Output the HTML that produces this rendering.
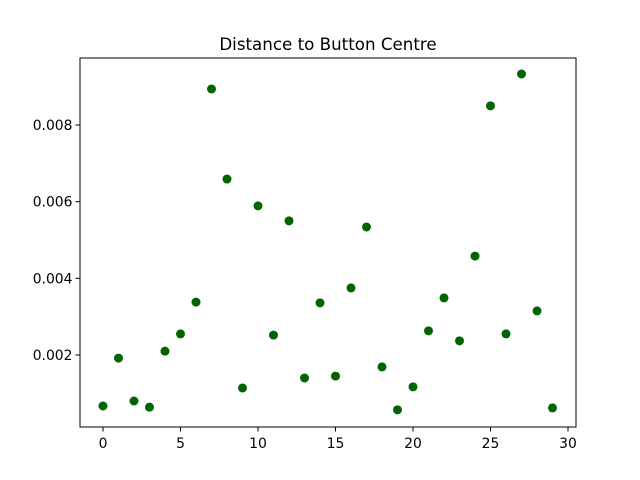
<!DOCTYPE html>
<html><head><meta charset="utf-8"><style>body{margin:0;background:#fff}svg{display:block;font-family:"DejaVu Sans","Liberation Sans",sans-serif}</style></head>
<body>
<svg id="chart" width="640" height="480">
<rect x="0" y="0" width="640" height="480" fill="#fff"/>
<text x="328" y="50" text-anchor="middle" font-size="16.7">Distance to Button Centre</text>
<g id="marks"></g>
<g id="axes"></g>
<rect x="80" y="58" width="496" height="369" fill="none" stroke="#000" stroke-width="1"/>
</svg>
<script>
const xValues = [0,1,2,3,4,5,6,7,8,9,10,11,12,13,14,15,16,17,18,19,20,21,22,23,24,25,26,27,28,29];
const yValues = [0.00067,0.00192,0.0008,0.00064,0.0021,0.00255,0.00338,0.00894,0.00659,0.00114,0.00589,0.00252,0.0055,0.0014,0.00336,0.00145,0.00375,0.00534,0.00169,0.00057,0.00117,0.00263,0.00349,0.00237,0.00458,0.0085,0.00255,0.00933,0.00315,0.00062];
const xTicks = [0,5,10,15,20,25,30];
const yTicks = [0.002,0.004,0.006,0.008];
const yTickLabels = ["0.002","0.004","0.006","0.008"];

const ns = "http://www.w3.org/2000/svg";
function xs(v){ return 103 + v*15.5; }
function ys(v){ return 355 - (v-0.002)/0.002*76.67; }
const marks = document.getElementById('marks');
const axes = document.getElementById('axes');
xValues.forEach((x,i)=>{
  const c = document.createElementNS(ns,'circle');
  c.setAttribute('cx', xs(x)); c.setAttribute('cy', ys(yValues[i])); c.setAttribute('r', 4.5);
  c.setAttribute('fill', '#006400');
  
  
  marks.appendChild(c);
});
xTicks.forEach(t=>{
  const l = document.createElementNS(ns,'line');
  l.setAttribute('x1', xs(t)); l.setAttribute('x2', xs(t)); l.setAttribute('y1', 427); l.setAttribute('y2', 431.5);
  l.setAttribute('stroke', '#000');
  
  
  axes.appendChild(l);
  const tx = document.createElementNS(ns,'text');
  tx.setAttribute('x', xs(t)); tx.setAttribute('y', 448); tx.setAttribute('text-anchor','middle'); tx.setAttribute('font-size','13.9');
  tx.textContent = String(t);
  
  
  axes.appendChild(tx);
});
yTicks.forEach((t,i)=>{
  const l = document.createElementNS(ns,'line');
  l.setAttribute('x1', 75.5); l.setAttribute('x2', 80); l.setAttribute('y1', ys(t)); l.setAttribute('y2', ys(t));
  l.setAttribute('stroke', '#000');
  
  
  axes.appendChild(l);
  const tx = document.createElementNS(ns,'text');
  tx.setAttribute('x', 72.5); tx.setAttribute('y', ys(t)+5); tx.setAttribute('text-anchor','end'); tx.setAttribute('font-size','13.9');
  tx.textContent = yTickLabels[i];
  
  
  axes.appendChild(tx);
});
</script>
</body></html>
